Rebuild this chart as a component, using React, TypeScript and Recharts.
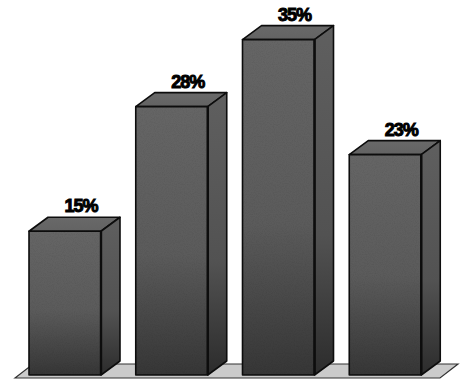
import { BarChart, Bar, XAxis, YAxis, ReferenceArea, LabelList } from 'recharts'

const categories = ['A', 'B', 'C', 'D']
const values = [15, 28, 35, 23]

const data = categories.map((c, i) => ({ name: c, value: values[i] }))

const DX = 19
const DY = 14

function Box3D(props: any) {
  const { x, y, width, height } = props
  const r = x + width
  const b = y + height
  return (
    <g stroke="#0d0d0d" strokeWidth={1.6} strokeLinejoin="round">
      <polygon points={`${x},${y} ${x + DX},${y - DY} ${r + DX},${y - DY} ${r},${y}`} fill="url(#topG)" />
      <polygon points={`${r},${y} ${r + DX},${y - DY} ${r + DX},${b - DY} ${r},${b}`} fill="url(#sideG)" />
      <rect x={x} y={y} width={width} height={height} fill="url(#frontG)" />
      <rect x={x} y={y} width={width} height={height} fill="#000" opacity={0.1} filter="url(#grain)" stroke="none" />
      <line x1={r} y1={y} x2={r} y2={b} strokeWidth={2.4} />
    </g>
  )
}

function Floor(props: any) {
  const { x, y, width, height } = props
  const base = y + height
  const front = base + 3
  const back = base - 11
  const l = x + 3
  const r = x + width + 1
  return (
    <polygon
      points={`${l},${front} ${l + 18},${back} ${r + 18},${back} ${r},${front}`}
      fill="#cbcbcb"
      stroke="#333"
      strokeWidth={1.2}
    />
  )
}

function ValueLabel(props: any) {
  const { x, y, width, value } = props
  return (
    <text
      x={x + width / 2 + 16}
      y={y - DY - 5}
      textAnchor="middle"
      fontFamily="Liberation Sans, Arial, sans-serif"
      fontWeight={700}
      fontSize={18}
      letterSpacing={-1}
      fill="#000"
      stroke="#000"
      strokeWidth={1}
    >
      {`${value}%`}
    </text>
  )
}

export default function App() {
  return (
    <div style={{ position: 'absolute', left: 0, top: 0, width: 461, height: 379, background: '#fff' }}>
      <BarChart width={461} height={379} data={data} margin={{ top: 30, right: 22, bottom: 4, left: 12 }}>
        <defs>
          <linearGradient id="frontG" x1="0" y1="0" x2="0" y2="1">
            <stop offset="0%" stopColor="#656565" />
            <stop offset="55%" stopColor="#5b5b5b" />
            <stop offset="100%" stopColor="#363636" />
          </linearGradient>
          <linearGradient id="sideG" x1="0" y1="0" x2="0" y2="1">
            <stop offset="0%" stopColor="#5f5f5f" />
            <stop offset="60%" stopColor="#525252" />
            <stop offset="100%" stopColor="#2c2c2c" />
          </linearGradient>
          <linearGradient id="topG" x1="0" y1="0" x2="0" y2="1">
            <stop offset="0%" stopColor="#696969" />
            <stop offset="100%" stopColor="#636363" />
          </linearGradient>
          <filter id="grain" x="0" y="0" width="100%" height="100%">
            <feTurbulence type="fractalNoise" baseFrequency="0.9" numOctaves={2} seed={3} result="n" />
            <feColorMatrix type="matrix" values="0 0 0 0 0  0 0 0 0 0  0 0 0 0 0  0 0 0 1.2 -0.5" in="n" result="a" />
            <feComposite in="SourceGraphic" in2="a" operator="in" />
          </filter>
        </defs>
        <XAxis dataKey="name" hide />
        <YAxis hide domain={[0, 36]} />
        <ReferenceArea y1={0} y2={1.5} shape={<Floor />} ifOverflow="visible" />
        <Bar dataKey="value" barSize={72} shape={<Box3D />} isAnimationActive={false}>
          <LabelList dataKey="value" content={<ValueLabel />} />
        </Bar>
      </BarChart>
    </div>
  )
}
